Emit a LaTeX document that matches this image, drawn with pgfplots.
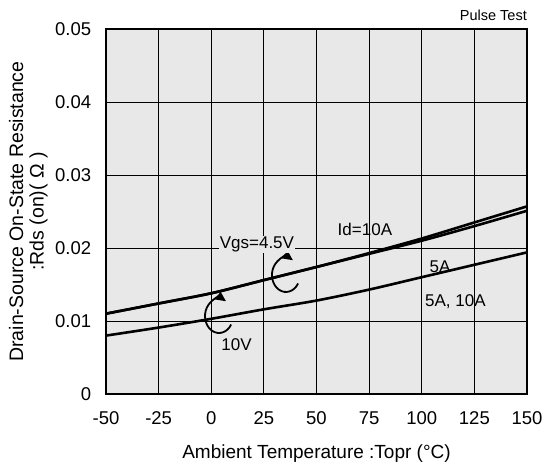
\documentclass[border=0pt]{standalone}
\usepackage{pgfplots}
\pgfplotsset{compat=1.18}
\usepackage{fontspec}
\setmainfont{Liberation Sans}
\usetikzlibrary{arrows.meta}
\begin{document}
\fontsize{17}{20}\selectfont
\begin{tikzpicture}
\useasboundingbox (-106pt,-76pt) rectangle (437pt,394pt);
\begin{axis}[
  at={(0pt,0pt)}, anchor=south west,
  scale only axis, width=421pt, height=365pt,
  xmin=-50, xmax=150, ymin=0, ymax=0.05,
  xtick={-50,-25,0,25,50,75,100,125,150},
  ytick={0,0.01,0.02,0.03,0.04,0.05},
  scaled y ticks=false,
  yticklabels={0,0.01,0.02,0.03,0.04,0.05},
  xticklabels={-50,-25,0,25,50,75,100,125,150},
  tick style={draw=none},
  grid=major, grid style={black, line width=0.8pt},
  axis line style={line width=2.2pt},
  axis background/.style={fill=black!9},
  tick label style={font=\fontsize{18.5}{21}\selectfont},
  xticklabel style={yshift=-12pt},
  yticklabel style={xshift=-9pt},
  xlabel={Ambient Temperature :Topr (°C)},
  xlabel style={font=\fontsize{19}{23}\selectfont, yshift=-8pt},
  ylabel={\shortstack{Drain-Source On-State Resistance\\[3pt]:Rds (on)( Ω )}},
  ylabel style={font=\fontsize{19.5}{23}\selectfont, yshift=-4pt},
  clip=false,
]
\addplot[black, line width=2.6pt, smooth] coordinates {(-50,0.0110)(-25,0.0124)(0,0.0138)(25,0.0156)(50,0.0174)(75,0.0193)(100,0.0213)(125,0.0235)(150,0.0257)};
\addplot[black, line width=2.6pt, smooth] coordinates {(-50,0.0110)(-25,0.0124)(0,0.0138)(25,0.0156)(50,0.0174)(75,0.0192)(100,0.0210)(125,0.0230)(150,0.0251)};
\addplot[black, line width=2.6pt, smooth] coordinates {(-50,0.0080)(-25,0.0091)(0,0.0103)(25,0.0116)(50,0.0128)(75,0.0143)(100,0.0160)(125,0.0177)(150,0.0194)};
\draw[line width=1.8pt, -{Triangle[length=10pt,width=9pt]}] (axis cs:41.25,0.01514) arc[start angle=-30, end angle=-300, x radius=14pt, y radius=17pt];
\draw[line width=1.8pt, -{Triangle[length=10pt,width=9pt]}] (axis cs:9.45,0.00952) arc[start angle=-30, end angle=-300, x radius=14pt, y radius=17pt];
\node[fill=black!9, inner sep=1pt] at (axis cs:21.7,0.0205) {Vgs=4.5V};
\node at (axis cs:73,0.0225) {Id=10A};
\node at (axis cs:108.7,0.0175) {5A};
\node at (axis cs:116,0.0126) {5A, 10A};
\node at (axis cs:12,0.0067) {10V};
\node[anchor=south east, font=\fontsize{14.5}{16}\selectfont, inner sep=0pt] at (rel axis cs:1,1) [yshift=8pt] {Pulse Test};
\end{axis}
\end{tikzpicture}
\end{document}
